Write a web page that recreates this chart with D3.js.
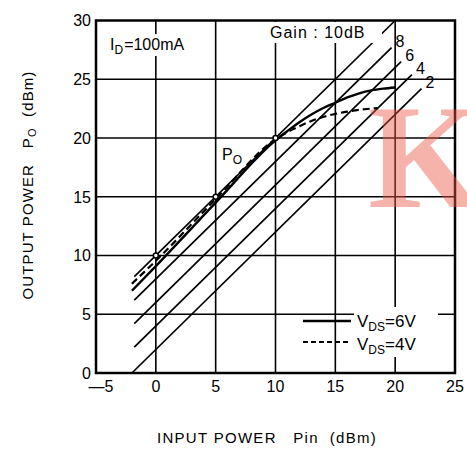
<!DOCTYPE html>
<html>
<head>
<meta charset="utf-8">
<script src="https://cdn.jsdelivr.net/npm/d3@7"></script>
<style>
  body { margin: 0; background: #fff; }
  svg { display: block; font-family: "Liberation Sans", Arial, sans-serif; }
</style>
</head>
<body>
<div id="chart"></div>
<script>
// Pout vs Pin, ID = 100mA
var xTicks = [-5, 0, 5, 10, 15, 20, 25];
var yTicks = [0, 5, 10, 15, 20, 25, 30];

// constant gain lines (dB)
var gainLabels = ['', '8', '6', '4', '2'];
var gainPinStart = [-1.8, -1.8, -1.8, -1.8, -2];
var gainPoStart = [8.2, 6.2, 4.2, 2.2, 0];
var gainPinEnd = [20, 19.7, 20.5, 21.4, 22.2];
var gainPoEnd = [30, 27.7, 26.5, 25.4, 24.2];

// VDS = 6V (solid)
var pin6 = [-2, 0, 5, 10, 11, 12, 13, 14, 15, 16, 17, 18, 19, 20];
var po6 = [7.0, 9.1, 14.5, 19.8, 20.6, 21.35, 22.0, 22.55, 23.0, 23.45, 23.8, 24.05, 24.2, 24.3];

// VDS = 4V (dashed)
var pin4 = [-2, 0, 5, 10, 11, 12, 13, 14, 15, 16, 17, 18, 18.5];
var po4 = [7.6, 9.55, 14.8, 19.9, 20.5, 21.0, 21.45, 21.8, 22.05, 22.25, 22.4, 22.5, 22.55];

// measured points
var markPin = [0, 5, 10];
var markPo = [10, 15, 20];

var width = 467,
    height = 455;

var x = d3.scaleLinear().domain([-5, 25]).range([96, 455]);
var y = d3.scaleLinear().domain([0, 30]).range([373, 20.5]);

var svg = d3.select('#chart').append('svg')
    .attr('width', width)
    .attr('height', height);

// grid
svg.append('g').selectAll('line').data(xTicks.slice(1, -1))
  .enter().append('line')
    .attr('x1', function(d) { return x(d); })
    .attr('x2', function(d) { return x(d); })
    .attr('y1', y(0))
    .attr('y2', y(30))
    .attr('stroke', '#000')
    .attr('stroke-width', 1.6);

svg.append('g').selectAll('line').data(yTicks.slice(1, -1))
  .enter().append('line')
    .attr('x1', x(-5))
    .attr('x2', x(25))
    .attr('y1', function(d) { return y(d); })
    .attr('y2', function(d) { return y(d); })
    .attr('stroke', '#000')
    .attr('stroke-width', 1.6);

// gain lines
svg.append('g').selectAll('line').data(gainLabels)
  .enter().append('line')
    .attr('x1', function(d, i) { return x(gainPinStart[i]); })
    .attr('y1', function(d, i) { return y(gainPoStart[i]); })
    .attr('x2', function(d, i) { return x(gainPinEnd[i]); })
    .attr('y2', function(d, i) { return y(gainPoEnd[i]); })
    .attr('stroke', '#000')
    .attr('stroke-width', 1.7);

svg.append('g').selectAll('text').data(gainLabels)
  .enter().append('text')
    .attr('x', function(d, i) { return x(gainPinEnd[i]) + 4; })
    .attr('y', function(d, i) { return y(gainPoEnd[i]) - 1; })
    .attr('font-size', 16)
    .text(function(d) { return d; });

var line = d3.line()
    .x(function(d) { return x(d[0]); })
    .y(function(d) { return y(d[1]); })
    .curve(d3.curveMonotoneX);

svg.append('path')
    .datum(d3.zip(pin6, po6))
    .attr('d', line)
    .attr('fill', 'none')
    .attr('stroke', '#000')
    .attr('stroke-width', 2.4);

svg.append('path')
    .datum(d3.zip(pin4, po4))
    .attr('d', line)
    .attr('fill', 'none')
    .attr('stroke', '#000')
    .attr('stroke-width', 2.2)
    .attr('stroke-dasharray', '7,4');

svg.append('g').selectAll('circle').data(markPin)
  .enter().append('circle')
    .attr('cx', function(d) { return x(d); })
    .attr('cy', function(d, i) { return y(markPo[i]); })
    .attr('r', 2.5)
    .attr('fill', '#fff')
    .attr('stroke', '#000')
    .attr('stroke-width', 1.5);

// frame
svg.append('rect')
    .attr('x', x(-5))
    .attr('y', y(30))
    .attr('width', x(25) - x(-5))
    .attr('height', y(0) - y(30))
    .attr('fill', 'none')
    .attr('stroke', '#000')
    .attr('stroke-width', 2.5);

// tick labels
svg.append('g').selectAll('text').data(yTicks)
  .enter().append('text')
    .attr('x', 91)
    .attr('y', function(d) { return y(d); })
    .attr('dy', '0.36em')
    .attr('text-anchor', 'end')
    .attr('font-size', 16)
    .text(function(d) { return d; });

svg.append('g').selectAll('text').data(xTicks)
  .enter().append('text')
    .attr('x', function(d) { return x(d) + (d < 0 ? 5 : 0); })
    .attr('y', 392)
    .attr('text-anchor', 'middle')
    .attr('font-size', 16)
    .text(function(d) { return d < 0 ? '\u2014' + Math.abs(d) : d; });

// in-plot text
svg.append('rect').attr('x', 266).attr('y', 22).attr('width', 116).attr('height', 21).attr('fill', '#fff');
svg.append('text')
    .attr('x', 270).attr('y', 38)
    .attr('font-size', 16).attr('letter-spacing', 1)
    .text('Gain : 10dB');

svg.append('rect').attr('x', 106).attr('y', 34).attr('width', 104).attr('height', 22).attr('fill', '#fff');
var id = svg.append('text').attr('x', 110).attr('y', 50).attr('font-size', 16);
id.append('tspan').text('I');
id.append('tspan').attr('font-size', 12).attr('dy', 4).text('D');
id.append('tspan').attr('dy', -4).attr('dx', 1).text('=100mA');

var po = svg.append('text').attr('x', 222).attr('y', 160).attr('font-size', 16);
po.append('tspan').text('P');
po.append('tspan').attr('font-size', 12).attr('dy', 4).text('O');

// legend
svg.append('line').attr('x1', 303).attr('x2', 351).attr('y1', 321).attr('y2', 321)
    .attr('stroke', '#000').attr('stroke-width', 2.4);
svg.append('line').attr('x1', 303).attr('x2', 351).attr('y1', 342).attr('y2', 342)
    .attr('stroke', '#000').attr('stroke-width', 2).attr('stroke-dasharray', '5,3');
svg.append('rect').attr('x', 354).attr('y', 307).attr('width', 84).attr('height', 50).attr('fill', '#fff');
[['6V', 327], ['4V', 350]].forEach(function(r) {
  var t = svg.append('text').attr('x', 357).attr('y', r[1]).attr('font-size', 17);
  t.append('tspan').text('V');
  t.append('tspan').attr('font-size', 12).attr('dy', 4).text('DS');
  t.append('tspan').attr('dy', -4).text('=' + r[0]);
});

// axis titles
svg.append('text')
    .attr('x', 267).attr('y', 443)
    .attr('text-anchor', 'middle')
    .attr('font-size', 15)
    .attr('letter-spacing', 1.3)
    .attr('xml:space', 'preserve')
    .text('INPUT POWER   Pin  (dBm)');

var yt = svg.append('text')
    .attr('transform', 'translate(33,185) rotate(-90)')
    .attr('text-anchor', 'middle')
    .attr('font-size', 15)
    .attr('letter-spacing', 1.1)
    .attr('xml:space', 'preserve');
yt.append('tspan').text('OUTPUT POWER   P');
yt.append('tspan').attr('font-size', 11).attr('dy', 3).text('O');
yt.append('tspan').attr('dy', -3).text('  (dBm)');

// watermark
svg.append('text')
    .attr('x', 368).attr('y', 207)
    .attr('font-family', '"Liberation Serif", serif')
    .attr('font-weight', 'bold')
    .attr('font-size', 148)
    .attr('fill', 'rgb(232,86,70)')
    .attr('fill-opacity', 0.45)
    .text('K');
</script>
</body>
</html>
